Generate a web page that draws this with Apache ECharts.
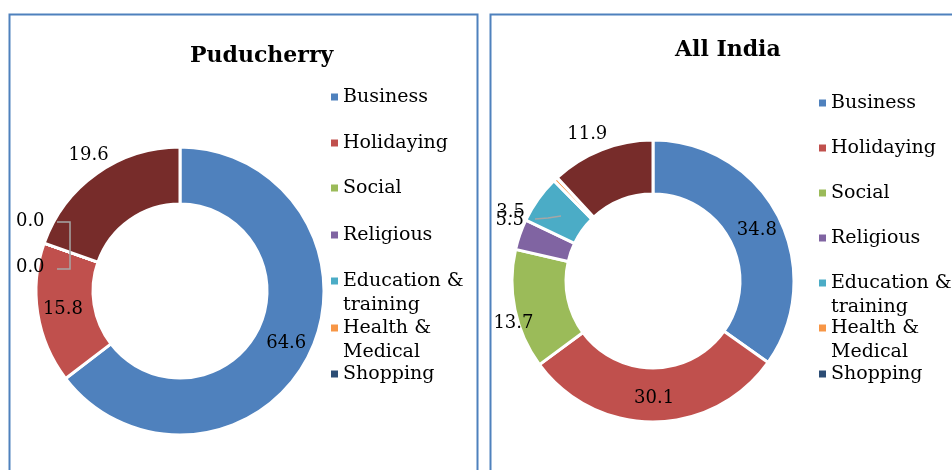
<!DOCTYPE html>
<html>
<head>
<meta charset="utf-8">
<script src="https://cdn.jsdelivr.net/npm/echarts@6/dist/echarts.min.js"></script>
<style>
  html, body { margin: 0; padding: 0; background: #fff; }
  #chart { width: 952px; height: 470px; }
</style>
</head>
<body>
<div id="chart"></div>
<script>
// purpose of visit, share in %
const categories = ['Business', 'Holidaying', 'Social', 'Religious', 'Education & training', 'Health & Medical', 'Shopping', 'Others']
const puducherryValues = [64.6, 15.8, 0.0, 0.0, 0, 0, 0, 19.6]
const allIndiaValues = [34.8, 30.1, 13.7, 3.5, 5.5, 0.5, 0, 11.9]
const legendNames = categories.slice(0, 7)
const legendTexts = ['Business', 'Holidaying', 'Social', 'Religious', 'Education &\ntraining', 'Health &\nMedical', 'Shopping']

const colors = ['#4F81BD', '#C0504D', '#9BBB59', '#8064A2', '#4BACC6', '#F79646', '#2C4D75', '#772C2A']
const serif = 'DejaVu Serif'

// label tweaks per slice (layout only)
const leftLabels = {
  2: { offset: [-38, -30] },
  3: { offset: [-38, 16] },
  4: { show: false },
  5: { show: false },
  6: { show: false },
  7: { offset: [-23, -39] }
}
const rightLabels = {
  0: { offset: [0, 3] },
  2: { offset: [-25, 19] },
  3: { offset: [-32, -30] },
  4: { offset: [-48, 7] },
  5: { show: false },
  6: { show: false },
  7: { offset: [-23, -38] }
}

const buildData = (values, tweaks) => values.map((v, i) => {
  const item = { name: categories[i], value: v }
  if (tweaks[i]) item.label = tweaks[i]
  return item
})

const pieSeries = (values, tweaks, center, radius) => ({
  type: 'pie',
  center: center,
  radius: radius,
  startAngle: 90,
  clockwise: true,
  avoidLabelOverlap: false,
  data: buildData(values, tweaks),
  itemStyle: { borderColor: '#fff', borderWidth: 3 },
  label: {
    show: true,
    position: 'inside',
    formatter: p => p.value.toFixed(1),
    fontFamily: serif,
    fontSize: 18,
    color: '#000'
  },
  labelLine: { show: false },
  labelLayout: { hideOverlap: false },
  emphasis: { disabled: true }
})

// two-line entries get a blank first line so the marker sits on the first text line
const makeLegends = (x, tops) => legendNames.map((name, i) => ({
  data: [name],
  left: x,
  top: tops[i],
  orient: 'vertical',
  icon: 'rect',
  itemWidth: 7,
  itemHeight: 7,
  itemStyle: { borderWidth: 0 },
  padding: 0,
  selectedMode: false,
  formatter: () => (legendTexts[i].indexOf('\n') >= 0 ? '\n' : '') + legendTexts[i],
  textStyle: {
    fontFamily: serif,
    fontSize: 19,
    color: '#000',
    lineHeight: 24
  }
}))

const chart = echarts.init(document.getElementById('chart'))

const option = {
  animation: false,
  color: colors,
  title: [
    { text: 'Puducherry', left: 190, top: 45, padding: 0, textStyle: { fontFamily: serif, fontSize: 22, fontWeight: 'bold', color: '#000' } },
    { text: 'All India', left: 675, top: 39, padding: 0, textStyle: { fontFamily: serif, fontSize: 22, fontWeight: 'bold', color: '#000' } }
  ],
  legend: [
    ...makeLegends(331, [85, 131, 176, 223, 245, 292, 362]),
    ...makeLegends(819, [91, 136, 181, 226, 247, 292, 362])
  ],
  graphic: [
    { type: 'rect', shape: { x: 9.5, y: 14.5, width: 468, height: 480 }, style: { fill: 'none', stroke: '#4F81BD', lineWidth: 2 } },
    { type: 'rect', shape: { x: 490.5, y: 14.5, width: 480, height: 480 }, style: { fill: 'none', stroke: '#4F81BD', lineWidth: 2 } },
    // leader lines for the crowded labels
    { type: 'polyline', z: 20, shape: { points: [[57, 222], [70, 222], [70, 269], [57, 269]] }, style: { fill: 'none', stroke: '#A6A6A6', lineWidth: 1.5 } },
    { type: 'polyline', z: 20, shape: { points: [[535, 219], [548, 218], [561, 216]] }, style: { fill: 'none', stroke: '#A6A6A6', lineWidth: 1.5 } }
  ],
  series: [
    pieSeries(puducherryValues, leftLabels, [180, 291], [87, 144]),
    pieSeries(allIndiaValues, rightLabels, [653, 281], [87, 141])
  ]
}

chart.setOption(option)
window.addEventListener('resize', () => chart.resize())
</script>
</body>
</html>
